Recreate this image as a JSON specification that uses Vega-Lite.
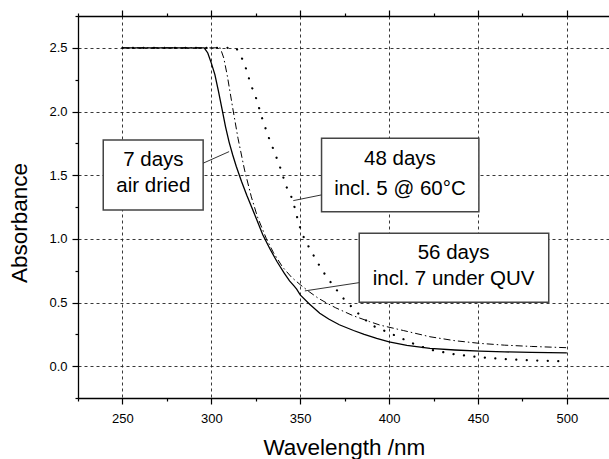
{
  "$schema": "https://vega.github.io/schema/vega-lite/v6.json",
  "width": 531,
  "height": 382,
  "autosize": {"type": "none"},
  "padding": {"left": 78, "top": 16, "right": 0, "bottom": 61},
  "background": "white",
  "config": {
    "view": {"stroke": null},
    "font": "Liberation Sans",
    "axis": {
      "domainColor": "black",
      "domainWidth": 1.3,
      "tickColor": "black",
      "tickWidth": 1.2,
      "labelColor": "black",
      "labelFont": "Liberation Sans",
      "labelFontSize": 13,
      "titleColor": "black",
      "titleFont": "Liberation Sans",
      "titleFontWeight": "normal",
      "titleFontSize": 22.5,
      "gridColor": "#222",
      "gridDash": [3, 3],
      "gridWidth": 1,
      "gridOpacity": 0.9
    }
  },
  "datasets": {
    "solid": [
      {"x": 250, "y": 2.5}, {"x": 296, "y": 2.5}, {"x": 298, "y": 2.46}, {"x": 300, "y": 2.38}, {"x": 302, "y": 2.29},
      {"x": 304, "y": 2.16}, {"x": 306, "y": 2.02}, {"x": 308, "y": 1.88}, {"x": 310, "y": 1.76}, {"x": 312, "y": 1.66},
      {"x": 314, "y": 1.57}, {"x": 317, "y": 1.45}, {"x": 320, "y": 1.34}, {"x": 325, "y": 1.17}, {"x": 329, "y": 1.03},
      {"x": 333, "y": 0.92}, {"x": 337, "y": 0.82}, {"x": 341, "y": 0.73}, {"x": 344, "y": 0.67}, {"x": 346.5, "y": 0.63},
      {"x": 348, "y": 0.605}, {"x": 350, "y": 0.56}, {"x": 355, "y": 0.49}, {"x": 361, "y": 0.415}, {"x": 366, "y": 0.37},
      {"x": 372, "y": 0.325}, {"x": 380, "y": 0.28}, {"x": 386, "y": 0.25}, {"x": 393, "y": 0.218}, {"x": 400, "y": 0.19},
      {"x": 410, "y": 0.163}, {"x": 423, "y": 0.139}, {"x": 437, "y": 0.127}, {"x": 451, "y": 0.118}, {"x": 465, "y": 0.112},
      {"x": 480, "y": 0.108}, {"x": 500, "y": 0.104}
    ],
    "dashdot": [
      {"x": 250, "y": 2.5}, {"x": 305, "y": 2.5}, {"x": 307, "y": 2.42}, {"x": 309, "y": 2.28}, {"x": 312, "y": 2.03},
      {"x": 315, "y": 1.79}, {"x": 318.7, "y": 1.54}, {"x": 322.5, "y": 1.33}, {"x": 326, "y": 1.17}, {"x": 331, "y": 1.0},
      {"x": 335, "y": 0.89}, {"x": 340, "y": 0.78}, {"x": 345, "y": 0.7}, {"x": 350, "y": 0.64}, {"x": 355, "y": 0.585},
      {"x": 360, "y": 0.535}, {"x": 365, "y": 0.495}, {"x": 370, "y": 0.458}, {"x": 380, "y": 0.395}, {"x": 389, "y": 0.35},
      {"x": 395, "y": 0.322}, {"x": 408, "y": 0.28}, {"x": 423, "y": 0.231}, {"x": 437, "y": 0.2}, {"x": 451, "y": 0.179},
      {"x": 465, "y": 0.165}, {"x": 480, "y": 0.155}, {"x": 500, "y": 0.145}
    ],
    "dotted": [
      {"x": 250, "y": 2.5}, {"x": 314, "y": 2.5}, {"x": 317.5, "y": 2.41}, {"x": 319.7, "y": 2.33}, {"x": 322, "y": 2.22},
      {"x": 325.3, "y": 2.1}, {"x": 328.5, "y": 1.95}, {"x": 331.9, "y": 1.81}, {"x": 335, "y": 1.7}, {"x": 338.5, "y": 1.57},
      {"x": 342.2, "y": 1.41}, {"x": 345, "y": 1.33}, {"x": 347, "y": 1.24}, {"x": 349, "y": 1.13}, {"x": 351, "y": 1.04},
      {"x": 353.5, "y": 0.97}, {"x": 356.3, "y": 0.9}, {"x": 359.5, "y": 0.82}, {"x": 362.8, "y": 0.744}, {"x": 366.5, "y": 0.67},
      {"x": 370.4, "y": 0.6}, {"x": 375, "y": 0.52}, {"x": 379.7, "y": 0.455}, {"x": 385.4, "y": 0.376}, {"x": 392, "y": 0.31},
      {"x": 400, "y": 0.262}, {"x": 406, "y": 0.225}, {"x": 414, "y": 0.175}, {"x": 423, "y": 0.13}, {"x": 436, "y": 0.095},
      {"x": 451, "y": 0.07}, {"x": 465, "y": 0.055}, {"x": 480, "y": 0.045}, {"x": 500, "y": 0.038}
    ],
    "boxes": [
      {"box": "7 days", "x1": 239.2, "x2": 295.4, "y1": 1.776, "y2": 1.227},
      {"box": "48 days", "x1": 362.0, "x2": 450.5, "y1": 1.79, "y2": 1.213},
      {"box": "56 days", "x1": 383.2, "x2": 489.8, "y1": 1.044, "y2": 0.502}
    ],
    "connectors": [
      {"box": "7 days", "x1": 295.4, "y1": 1.594, "x2": 310.0, "y2": 1.685},
      {"box": "48 days", "x1": 362.0, "y1": 1.345, "x2": 346.1, "y2": 1.3},
      {"box": "56 days", "x1": 383.2, "y1": 0.656, "x2": 352.6, "y2": 0.591}
    ],
    "labels": [
      {"label": "7 days", "x": 267.4, "y": 1.619},
      {"label": "air dried", "x": 267.4, "y": 1.418},
      {"label": "48 days", "x": 406.1, "y": 1.627},
      {"label": "incl. 5 @ 60°C", "x": 406.1, "y": 1.392},
      {"label": "56 days", "x": 436.3, "y": 0.887},
      {"label": "incl. 7 under QUV", "x": 436.3, "y": 0.682}
    ]
  },
  "layer": [
    {
      "data": {"name": "solid"},
      "mark": {"type": "line", "color": "black", "strokeWidth": 1.3},
      "encoding": {
        "x": {
          "field": "x", "type": "quantitative",
          "scale": {"domain": [225, 523.7], "nice": false, "zero": false},
          "axis": {
            "orient": "bottom", "values": [250, 300, 350, 400, 450, 500], "tickSize": 6, "ticks": true,
            "labelPadding": 8, "labelBaseline": "top", "grid": true, "title": "Wavelength /nm",
            "titleX": 265.8, "titleY": 56, "titleAlign": "center", "titleBaseline": "alphabetic"
          }
        },
        "y": {
          "field": "y", "type": "quantitative",
          "scale": {"domain": [-0.25, 2.75], "nice": false, "zero": false},
          "axis": {
            "orient": "left", "values": [0, 0.5, 1, 1.5, 2, 2.5], "format": ".1f", "tickSize": 6,
            "labelPadding": 5, "grid": true, "title": "Absorbance",
            "titleX": -51.5, "titleY": 206.5, "titleAngle": 270, "titleAlign": "center", "titleBaseline": "alphabetic"
          }
        }
      }
    },
    {
      "data": {"name": "dashdot"},
      "mark": {"type": "line", "color": "black", "strokeWidth": 1, "strokeDash": [7, 3, 1.5, 3]},
      "encoding": {
        "x": {
          "field": "x", "type": "quantitative",
          "scale": {"domain": [225, 523.7], "nice": false, "zero": false},
          "axis": {"orient": "bottom", "values": [225, 275, 325, 375, 425, 475], "tickSize": 3, "labels": false, "domain": false, "grid": false, "title": null}
        },
        "y": {
          "field": "y", "type": "quantitative",
          "scale": {"domain": [-0.25, 2.75], "nice": false, "zero": false},
          "axis": {"orient": "left", "values": [-0.25, 0.25, 0.75, 1.25, 1.75, 2.25, 2.75], "tickSize": 3, "labels": false, "domain": false, "grid": false, "title": null}
        }
      }
    },
    {
      "data": {"name": "dotted"},
      "mark": {"type": "line", "color": "black", "strokeWidth": 2.2, "strokeDash": [0.1, 10.4], "strokeCap": "round"},
      "encoding": {
        "x": {
          "field": "x", "type": "quantitative",
          "scale": {"domain": [225, 523.7], "nice": false, "zero": false},
          "axis": null
        },
        "y": {
          "field": "y", "type": "quantitative",
          "scale": {"domain": [-0.25, 2.75], "nice": false, "zero": false},
          "axis": null
        }
      }
    },
    {
      "data": {"name": "boxes"},
      "mark": {"type": "rect", "fill": "white", "stroke": "#444", "strokeWidth": 1.5},
      "encoding": {
        "x": {
          "field": "x1", "type": "quantitative",
          "scale": {"domain": [225, 523.7], "nice": false, "zero": false},
          "axis": null
        },
        "x2": {"field": "x2"},
        "y": {
          "field": "y1", "type": "quantitative",
          "scale": {"domain": [-0.25, 2.75], "nice": false, "zero": false},
          "axis": null
        },
        "y2": {"field": "y2"}
      }
    },
    {
      "data": {"name": "connectors"},
      "mark": {"type": "rule", "color": "#333", "strokeWidth": 1},
      "encoding": {
        "x": {
          "field": "x1", "type": "quantitative",
          "scale": {"domain": [225, 523.7], "nice": false, "zero": false},
          "axis": {"orient": "top", "values": [250, 300, 350, 400, 450, 500], "tickSize": 6, "labels": false, "grid": false, "title": null}
        },
        "x2": {"field": "x2"},
        "y": {
          "field": "y1", "type": "quantitative",
          "scale": {"domain": [-0.25, 2.75], "nice": false, "zero": false},
          "axis": null
        },
        "y2": {"field": "y2"}
      }
    },
    {
      "data": {"name": "labels"},
      "mark": {"type": "text", "font": "Liberation Sans", "fontSize": 20.5, "align": "center", "baseline": "middle", "color": "black"},
      "encoding": {
        "x": {
          "field": "x", "type": "quantitative",
          "scale": {"domain": [225, 523.7], "nice": false, "zero": false},
          "axis": {"orient": "top", "values": [225, 275, 325, 375, 425, 475], "tickSize": 3, "labels": false, "domain": false, "grid": false, "title": null}
        },
        "y": {
          "field": "y", "type": "quantitative",
          "scale": {"domain": [-0.25, 2.75], "nice": false, "zero": false},
          "axis": null
        },
        "text": {"field": "label"}
      }
    }
  ],
  "resolve": {"axis": {"x": "independent", "y": "independent"}}
}
